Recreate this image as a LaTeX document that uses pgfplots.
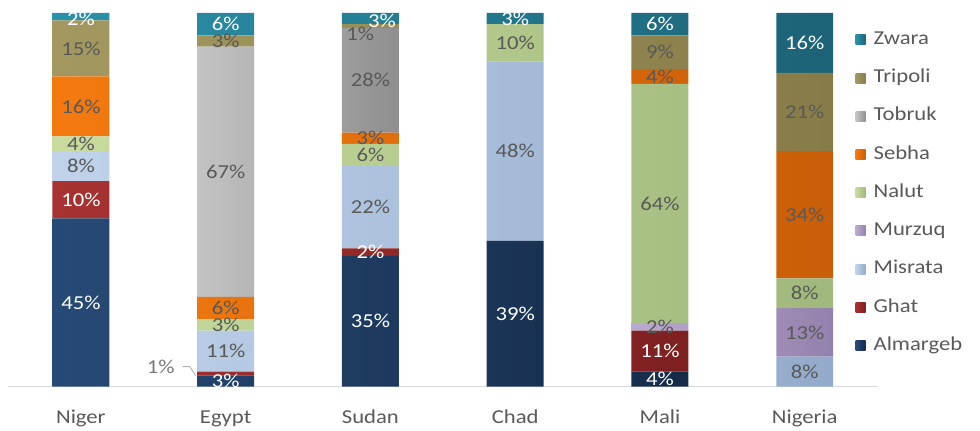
\documentclass[border=0pt]{standalone}
\usepackage{fontspec}
\setmainfont{Carlito}[FakeStretch=1.15]
\usepackage{pgfplots}
\usepackage{pgfplotstable}
\pgfplotsset{compat=1.18}
\definecolor{almL}{HTML}{274A76}\definecolor{almR}{HTML}{152B48}
\definecolor{ghaL}{HTML}{A83232}\definecolor{ghaR}{HTML}{7E2020}
\definecolor{misL}{HTML}{C0D3EA}\definecolor{misR}{HTML}{93AACA}
\definecolor{murL}{HTML}{BBAAD0}\definecolor{murR}{HTML}{9381AD}
\definecolor{nalL}{HTML}{C9DC9E}\definecolor{nalR}{HTML}{A0B87C}
\definecolor{sebL}{HTML}{F47A10}\definecolor{sebR}{HTML}{C85E08}
\definecolor{tobL}{HTML}{C4C4C4}\definecolor{tobR}{HTML}{8E8E8E}
\definecolor{triL}{HTML}{A39960}\definecolor{triR}{HTML}{877C48}
\definecolor{zwaL}{HTML}{2A92AA}\definecolor{zwaR}{HTML}{1D6276}
\definecolor{labelgray}{HTML}{595959}
\definecolor{axisgray}{HTML}{D9D9D9}
\newcommand\lblfont{\fontsize{14.8pt}{17.5pt}\selectfont}
\pgfplotstableread{
x Almargeb Ghat Misrata Murzuq Nalut Sebha Tobruk Tripoli Zwara
0 45 10 8 0 4 16 0 15 2
1 3 1 11 0 3 6 67 3 6
2 35 2 22 0 6 3 28 1 3
3 39 0 48 0 10 0 0 0 3
4 4 11 0 2 64 4 0 9 6
5 0 0 8 13 8 34 0 21 16
}\datatable
% label positions: segment centres (cumulative value minus half the value)
\pgfplotstableread{
x y lab
0 22.5 45
0 50 10
0 98.3 2
1 1.5 3
1 97 6
2 17.5 35
2 36 2
2.08 97.8 3
3 19.5 39
3 98.5 3
4 2 4
4 9.5 11
4 97 6
5 92 16
}\whitelabels
\pgfplotstableread{
x y lab
0 59 8
0 65 4
0 75 16
0 90.5 15
1 9.5 11
1 16.5 3
1 21 6
1 57.5 67
1 92.5 3
2 48 22
2 62 6
2 66.5 3
2 82 28
1.93 94.5 1
3 63 48
3 92 10
4 16 2
4 49 64
4 83 4
4 89.5 9
5 4 8
5 14.5 13
5 25 8
5 46 34
5 73.5 21
}\graylabels
\begin{document}
\begin{tikzpicture}
\useasboundingbox (-6.375pt,-33pt) rectangle (729.375pt,290.25pt);
\begin{axis}[
  at={(0,0)}, anchor=south west,
  scale only axis, width=652.125pt, height=280.5pt,
  ybar stacked, bar width=42.75pt,
  xmin=-0.5, xmax=5.5, ymin=0, ymax=100,
  hide y axis,
  axis x line=bottom,
  x axis line style={-, draw=axisgray, line width=0.8pt},
  xtick={0,1,2,3,4,5},
  xticklabels={Niger,Egypt,Sudan,Chad,Mali,Nigeria},
  major tick length=0pt,
  xticklabel style={anchor=base, yshift=-27.75pt, text=labelgray, font=\lblfont},
  clip=false,
  reverse legend,
  legend cell align=left,
  legend style={at={(0.975,0.519)}, anchor=west, draw=none, fill=none,
    inner sep=0pt, row sep=15.7pt, column sep=6pt,
    nodes={inner sep=0pt, text height=10pt, text depth=3pt, text=labelgray, font=\lblfont}},
  legend image code/.code={\path[#1] (0pt,-3.75pt) rectangle (7.5pt,3.75pt);},
]
\addplot[draw=none, left color=almL, right color=almR] table[x=x,y=Almargeb]{\datatable};
\addlegendentry{Almargeb}
\addplot[draw=none, left color=ghaL, right color=ghaR] table[x=x,y=Ghat]{\datatable};
\addlegendentry{Ghat}
\addplot[draw=none, left color=misL, right color=misR] table[x=x,y=Misrata]{\datatable};
\addlegendentry{Misrata}
\addplot[draw=none, left color=murL, right color=murR] table[x=x,y=Murzuq]{\datatable};
\addlegendentry{Murzuq}
\addplot[draw=none, left color=nalL, right color=nalR] table[x=x,y=Nalut]{\datatable};
\addlegendentry{Nalut}
\addplot[draw=none, left color=sebL, right color=sebR] table[x=x,y=Sebha]{\datatable};
\addlegendentry{Sebha}
\addplot[draw=none, left color=tobL, right color=tobR] table[x=x,y=Tobruk]{\datatable};
\addlegendentry{Tobruk}
\addplot[draw=none, left color=triL, right color=triR] table[x=x,y=Tripoli]{\datatable};
\addlegendentry{Tripoli}
\addplot[draw=none, left color=zwaL, right color=zwaR] table[x=x,y=Zwara]{\datatable};
\addlegendentry{Zwara}
\end{axis}
\begin{axis}[
  at={(0,0)}, anchor=south west,
  scale only axis, width=652.125pt, height=280.5pt,
  xmin=-0.5, xmax=5.5, ymin=0, ymax=100,
  hide axis, clip=false,
  nodes near coords={\pgfplotspointmeta\%},
  point meta=explicit symbolic,
  every node near coord/.append style={anchor=center, font=\lblfont},
]
\addplot[draw=none, mark=none, every node near coord/.append style={text=white}] table[x=x,y=y,meta=lab]{\whitelabels};
\addplot[draw=none, mark=none, every node near coord/.append style={text=labelgray}] table[x=x,y=y,meta=lab]{\graylabels};
\node[text=labelgray!80, font=\lblfont, anchor=center] at (axis cs:0.552,5.35) {1\%};
\draw[labelgray!50, line width=0.6pt] (axis cs:0.703,5.35) -- (axis cs:0.752,5.35) -- (axis cs:0.793,2.94);
\end{axis}
\end{tikzpicture}
\end{document}
